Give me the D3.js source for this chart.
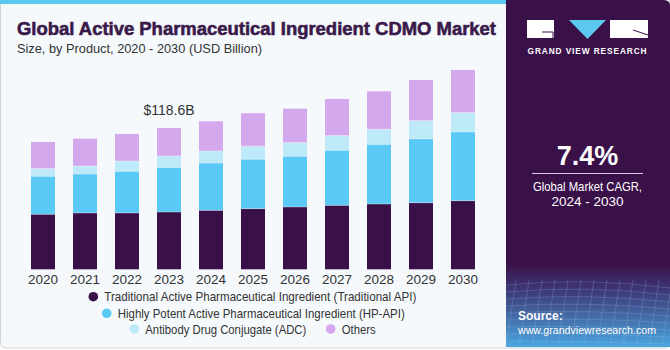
<!DOCTYPE html>
<html>
<head>
<meta charset="utf-8">
<script src="https://cdn.jsdelivr.net/npm/d3@7"></script>
<style>
  body { margin: 0; background: #fff; }
  text { font-family: "Liberation Sans", Arial, sans-serif; }
</style>
</head>
<body>
<div id="chart"></div>
<script>
// data (USD Billion)
var years = ["2020","2021","2022","2023","2024","2025","2026","2027","2028","2029","2030"];
var traditional = [46.2, 47.3, 47.3, 48.1, 49.5, 50.9, 52.3, 53.7, 54.8, 55.9, 57.6];
var hpapi       = [31.9, 32.7, 35.0, 37.5, 39.7, 41.5, 42.6, 46.2, 50.1, 53.7, 57.7];
var adc         = [ 6.4,  6.7,  8.6,  9.5, 10.1, 10.9, 11.4, 12.3, 12.6, 15.1, 16.2];
var others      = [22.4, 22.9, 22.7, 23.5, 24.9, 27.7, 28.5, 30.8, 31.9, 34.2, 35.8];
var seriesNames = ["Traditional Active Pharmaceutical Ingredient (Traditional API)",
                   "Highly Potent Active Pharmaceutical Ingredient (HP-API)",
                   "Antibody Drug Conjugate (ADC)", "Others"];
var colors = ["#3a1048", "#5bc9f5", "#bde9f9", "#d4a8ec"];
var calloutYear = "2023", calloutLabel = "$118.6B";

var width = 670, height = 350;
var svg = d3.select("#chart").append("svg")
    .attr("width", width).attr("height", height);

// card background
svg.append("rect")
    .attr("x", 0.5).attr("y", -4).attr("width", width - 1).attr("height", height - 2 + 4)
    .attr("rx", 5)
    .attr("fill", "#f5f9fc").attr("stroke", "#cfd3d6");
svg.append("rect")
    .attr("x", 0).attr("y", 0).attr("width", 506).attr("height", 4)
    .attr("fill", "#5bc8f0");

// stack the series
var table = years.map(function(y, i) {
  return {year: y, s0: traditional[i], s1: hpapi[i], s2: adc[i], s3: others[i]};
});
var stack = d3.stack().keys(["s0", "s1", "s2", "s3"]);
var layers = stack(table);

var x = d3.scaleBand().domain(years).range([22, 484])
    .paddingInner(0.4286).paddingOuter(0.2143);
var y = d3.scaleLinear().domain([0, 170]).range([269.3, 269.3 - 170 * 1.1914]);

var g = svg.append("g");
g.selectAll(".layer")
    .data(layers)
  .enter().append("g")
    .attr("class", "layer")
    .attr("fill", function(d, i) { return colors[i]; })
  .selectAll("rect")
    .data(function(d) { return d; })
  .enter().append("rect")
    .attr("x", function(d) { return x(d.data.year); })
    .attr("y", function(d) { return y(d[1]); })
    .attr("width", x.bandwidth())
    .attr("height", function(d) { return y(d[0]) - y(d[1]); });

// thin separators between segments
g.selectAll(".sep")
    .data(layers.slice(0, 3).flat())
  .enter().append("line")
    .attr("x1", function(d) { return x(d.data.year); })
    .attr("x2", function(d) { return x(d.data.year) + x.bandwidth(); })
    .attr("y1", function(d) { return y(d[1]); })
    .attr("y2", function(d) { return y(d[1]); })
    .attr("stroke", "#ffffff").attr("stroke-opacity", 0.35).attr("stroke-width", 1);

// x axis
var xAxis = svg.append("g")
    .attr("transform", "translate(0," + 269.3 + ")")
    .call(d3.axisBottom(x).tickSize(0).tickPadding(5));
xAxis.select(".domain").remove();
xAxis.selectAll("text")
    .attr("font-size", 13.5).attr("fill", "#333")
    .attr("dy", "0.71em");

// callout
var ci = years.indexOf(calloutYear);
svg.append("text")
    .attr("x", x(calloutYear) + x.bandwidth() / 2)
    .attr("y", y(layers[3][ci][1]) - 13)
    .attr("text-anchor", "middle")
    .attr("font-size", 14).attr("fill", "#333")
    .text(calloutLabel);

// titles
svg.append("text")
    .attr("x", 17).attr("y", 35)
    .attr("font-size", 18.5).attr("font-weight", "bold").attr("fill", "#3a1a4a")
    .attr("stroke", "#3a1a4a").attr("stroke-width", 0.6)
    .attr("textLength", 479).attr("lengthAdjust", "spacingAndGlyphs")
    .text("Global Active Pharmaceutical Ingredient CDMO Market");
svg.append("text")
    .attr("x", 17).attr("y", 53)
    .attr("font-size", 13.5).attr("fill", "#333")
    .attr("textLength", 245).attr("lengthAdjust", "spacingAndGlyphs")
    .text("Size, by Product, 2020 - 2030 (USD Billion)");

// legend
var legendPos = [[93.3, 296.7], [106.7, 313.3], [134.3, 329], [330.7, 329]];
var legendLen = [312, 287, 161, 34];
var legend = svg.selectAll(".legend")
    .data(seriesNames)
  .enter().append("g")
    .attr("class", "legend")
    .attr("transform", function(d, i) { return "translate(" + legendPos[i][0] + "," + legendPos[i][1] + ")"; });
legend.append("circle").attr("r", 4.8).attr("fill", function(d, i) { return colors[i]; });
legend.append("text")
    .attr("x", 11).attr("y", 0).attr("dy", "0.35em")
    .attr("font-size", 13.5).attr("fill", "#333")
    .attr("textLength", function(d, i) { return legendLen[i]; })
    .attr("lengthAdjust", "spacingAndGlyphs")
    .text(function(d) { return d; });

// right panel
var px = 506;
var defs = svg.append("defs");
var grad = defs.append("linearGradient").attr("id", "pgrad")
    .attr("x1", 0).attr("y1", 0).attr("x2", 0).attr("y2", 1);
grad.append("stop").attr("offset", "0").attr("stop-color", "#3a1048");
grad.append("stop").attr("offset", "0.76").attr("stop-color", "#3a1048");
grad.append("stop").attr("offset", "0.84").attr("stop-color", "#3e3a78");
grad.append("stop").attr("offset", "1").attr("stop-color", "#4aa6e0");
svg.append("path")
    .attr("d", "M" + px + ",0 H" + (width - 6) + " Q" + width + ",0 " + width + ",6 V347 H" + px + " Z")
    .attr("fill", "url(#pgrad)");

// faint mesh in the panel foot
var mesh = svg.append("g").attr("stroke", "#9ec9ee").attr("stroke-opacity", 0.22).attr("fill", "none");
d3.range(0, 9).forEach(function(k) {
  var yy = 285 + k * 7;
  mesh.append("path").attr("d", "M" + px + "," + yy + " Q" + (px + 80) + "," + (yy - 8 + k) + " " + width + "," + (yy + 3));
});
d3.range(0, 13).forEach(function(k) {
  var xx = px + 4 + k * 13;
  mesh.append("path").attr("d", "M" + (xx + 6) + ",280 L" + (xx - 4) + ",347");
});

// logo
var logo = svg.append("g");
logo.append("rect").attr("x", 527).attr("y", 20).attr("width", 27).attr("height", 18).attr("fill", "#fff");
logo.append("path").attr("d", "M542,32 H553 V38").attr("stroke", "#3a1048").attr("stroke-width", 1).attr("fill", "none");
logo.append("path").attr("d", "M569,20 H606 L587.5,39 Z").attr("fill", "#5bc8f0");
logo.append("rect").attr("x", 610).attr("y", 20).attr("width", 38).attr("height", 18).attr("fill", "#fff");
logo.append("path").attr("d", "M633,30 L648,35").attr("stroke", "#3a1048").attr("stroke-width", 1);
logo.append("text").attr("x", 587.5).attr("y", 54).attr("text-anchor", "middle")
    .attr("font-size", 8.3).attr("font-weight", "bold").attr("fill", "#fff").attr("letter-spacing", 0.9)
    .text("GRAND VIEW RESEARCH");

// CAGR block
svg.append("text").attr("x", 587.5).attr("y", 165).attr("text-anchor", "middle")
    .attr("font-size", 27).attr("font-weight", "bold").attr("fill", "#fff")
    .text("7.4%");
svg.append("line").attr("x1", 532).attr("x2", 643).attr("y1", 173.5).attr("y2", 173.5)
    .attr("stroke", "#d8c8e0").attr("stroke-width", 1);
svg.append("text").attr("x", 587.5).attr("y", 191).attr("text-anchor", "middle")
    .attr("font-size", 13).attr("fill", "#fff")
    .attr("textLength", 109).attr("lengthAdjust", "spacingAndGlyphs")
    .text("Global Market CAGR,");
svg.append("text").attr("x", 587.5).attr("y", 206).attr("text-anchor", "middle")
    .attr("font-size", 13).attr("fill", "#fff")
    .attr("textLength", 72).attr("lengthAdjust", "spacingAndGlyphs")
    .text("2024 - 2030");

// source
svg.append("text").attr("x", 518).attr("y", 320)
    .attr("font-size", 12).attr("font-weight", "bold").attr("fill", "#fff")
    .text("Source:");
svg.append("text").attr("x", 518).attr("y", 334)
    .attr("font-size", 11.2).attr("fill", "#fff")
    .attr("textLength", 138).attr("lengthAdjust", "spacingAndGlyphs")
    .text("www.grandviewresearch.com");
</script>
</body>
</html>
